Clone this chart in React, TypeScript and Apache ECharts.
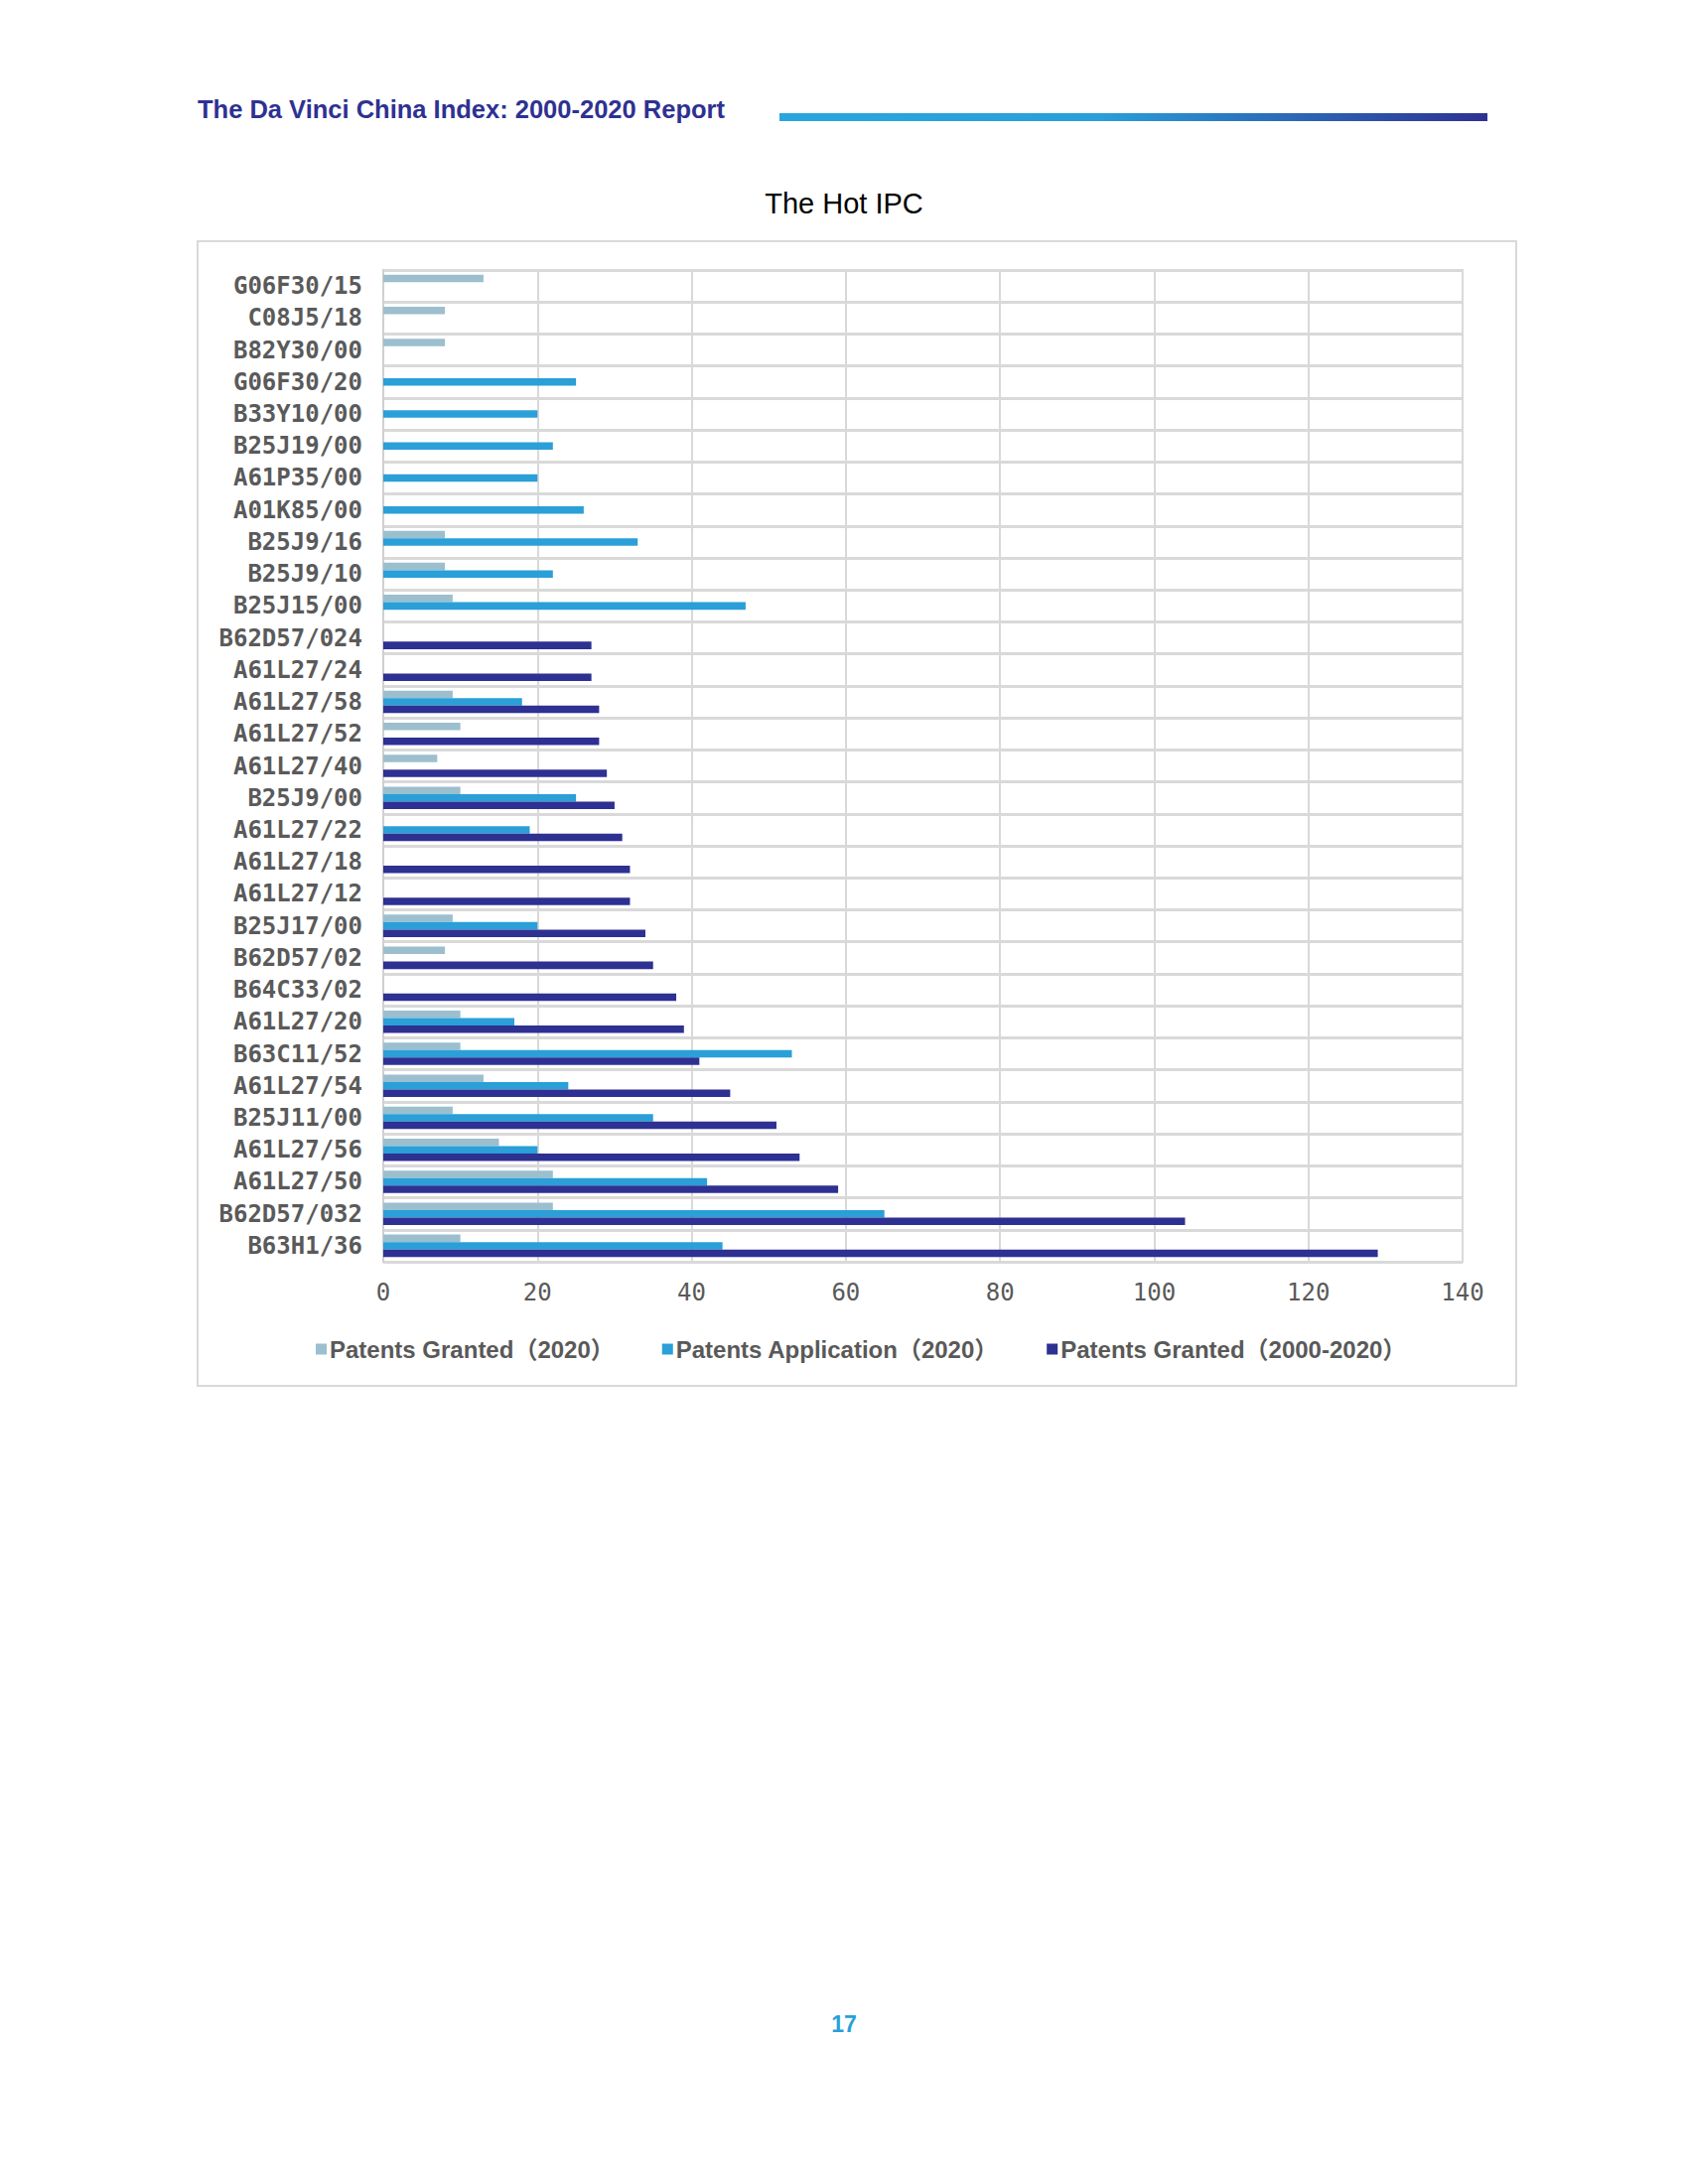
import React, { useEffect, useRef } from "react";
import * as echarts from "echarts";

const categories = [
  "G06F30/15", "C08J5/18", "B82Y30/00", "G06F30/20", "B33Y10/00", "B25J19/00",
  "A61P35/00", "A01K85/00", "B25J9/16", "B25J9/10", "B25J15/00", "B62D57/024",
  "A61L27/24", "A61L27/58", "A61L27/52", "A61L27/40", "B25J9/00", "A61L27/22",
  "A61L27/18", "A61L27/12", "B25J17/00", "B62D57/02", "B64C33/02", "A61L27/20",
  "B63C11/52", "A61L27/54", "B25J11/00", "A61L27/56", "A61L27/50", "B62D57/032",
  "B63H1/36",
];

const granted2020 = [
  13, 8, 8, null, null, null, null, null, 8, 8, 9, null, null, 9, 10, 7, 10, null,
  null, null, 9, 8, null, 10, 10, 13, 9, 15, 22, 22, 10,
];

const application2020 = [
  null, null, null, 25, 20, 22, 20, 26, 33, 22, 47, null, null, 18, null, null, 25, 19,
  null, null, 20, null, null, 17, 53, 24, 35, 20, 42, 65, 44,
];

const granted2000to2020 = [
  null, null, null, null, null, null, null, null, null, null, null, 27, 27, 28, 28, 29,
  30, 31, 32, 32, 34, 35, 38, 39, 41, 45, 51, 54, 59, 104, 129,
];

const seriesNames = [
  "Patents Granted（2020）",
  "Patents Application（2020）",
  "Patents Granted（2000-2020）",
];

const xTicks = { min: 0, max: 140, interval: 20 };

export default function App() {
  const ref = useRef<HTMLDivElement>(null);

  useEffect(() => {
    if (!ref.current) return;
    const chart = echarts.init(ref.current, null, { renderer: "svg" });
    const monoFont = "'DejaVu Sans Mono', monospace";
    const sansFont = "'Liberation Sans', Arial, 'Noto Sans CJK SC', sans-serif";
    chart.setOption({
      animation: false,
      backgroundColor: "#ffffff",
      color: ["#9bbfce", "#2a9fd8", "#2e3092"],
      graphic: [
        {
          type: "text",
          left: 199,
          top: 97,
          style: {
            text: "The Da Vinci China Index: 2000-2020 Report",
            fontFamily: sansFont,
            fontWeight: "bold",
            fontSize: 25.5,
            fill: "#2e3192",
          },
        },
        {
          type: "rect",
          shape: { x: 785, y: 114, width: 713, height: 8 },
          style: {
            fill: new echarts.graphic.LinearGradient(0, 0, 1, 0, [
              { offset: 0, color: "#29a6de" },
              { offset: 0.45, color: "#299fd8" },
              { offset: 1, color: "#2e3192" },
            ]),
          },
        },
        {
          type: "rect",
          shape: { x: 199, y: 243, width: 1328, height: 1153 },
          style: { fill: "none", stroke: "#d9d9d9", lineWidth: 2 },
        },
        {
          type: "text",
          left: "center",
          top: 2027,
          style: {
            text: "17",
            fontFamily: sansFont,
            fontWeight: "bold",
            fontSize: 23,
            fill: "#2a9fd8",
          },
        },
      ],
      title: {
        text: "The Hot IPC",
        left: "center",
        top: 185,
        textStyle: {
          fontFamily: sansFont,
          fontWeight: "normal",
          fontSize: 29,
          color: "#000000",
        },
      },
      legend: {
        left: 313,
        top: 1342,
        itemWidth: 11,
        itemHeight: 11,
        itemGap: 48,
        icon: "rect",
        data: seriesNames,
        textStyle: {
          fontFamily: sansFont,
          fontWeight: "bold",
          fontSize: 24,
          color: "#595959",
          padding: [0, 0, 0, -2],
        },
      },
      grid: {
        left: 386,
        top: 272,
        width: 1087,
        height: 999,
        show: true,
        borderColor: "#d9d9d9",
        borderWidth: 2,
        containLabel: false,
      },
      xAxis: {
        type: "value",
        min: xTicks.min,
        max: xTicks.max,
        interval: xTicks.interval,
        axisLine: { show: false },
        axisTick: { show: false },
        axisLabel: {
          margin: 19,
          fontFamily: monoFont,
          fontSize: 24,
          color: "#595959",
        },
        splitLine: { show: true, lineStyle: { color: "#d9d9d9", width: 2 } },
      },
      yAxis: {
        type: "category",
        inverse: true,
        data: categories,
        axisLine: { show: true, lineStyle: { color: "#d0d0d0", width: 2 } },
        axisTick: { show: false },
        axisLabel: {
          margin: 21,
          fontFamily: monoFont,
          fontWeight: "bold",
          fontSize: 24,
          color: "#5a5a5a",
        },
        splitLine: { show: true, lineStyle: { color: "#d9d9d9", width: 3 } },
      },
      series: [
        {
          name: seriesNames[0],
          type: "bar",
          data: granted2020,
          barGap: "0%",
          barCategoryGap: "30%",
        },
        {
          name: seriesNames[1],
          type: "bar",
          data: application2020,
          barGap: "0%",
          barCategoryGap: "30%",
        },
        {
          name: seriesNames[2],
          type: "bar",
          data: granted2000to2020,
          barGap: "0%",
          barCategoryGap: "30%",
        },
      ],
    });
    return () => chart.dispose();
  }, []);

  return (
    <div
      ref={ref}
      style={{ position: "absolute", left: 0, top: 0, width: 1700, height: 2200 }}
    />
  );
}
